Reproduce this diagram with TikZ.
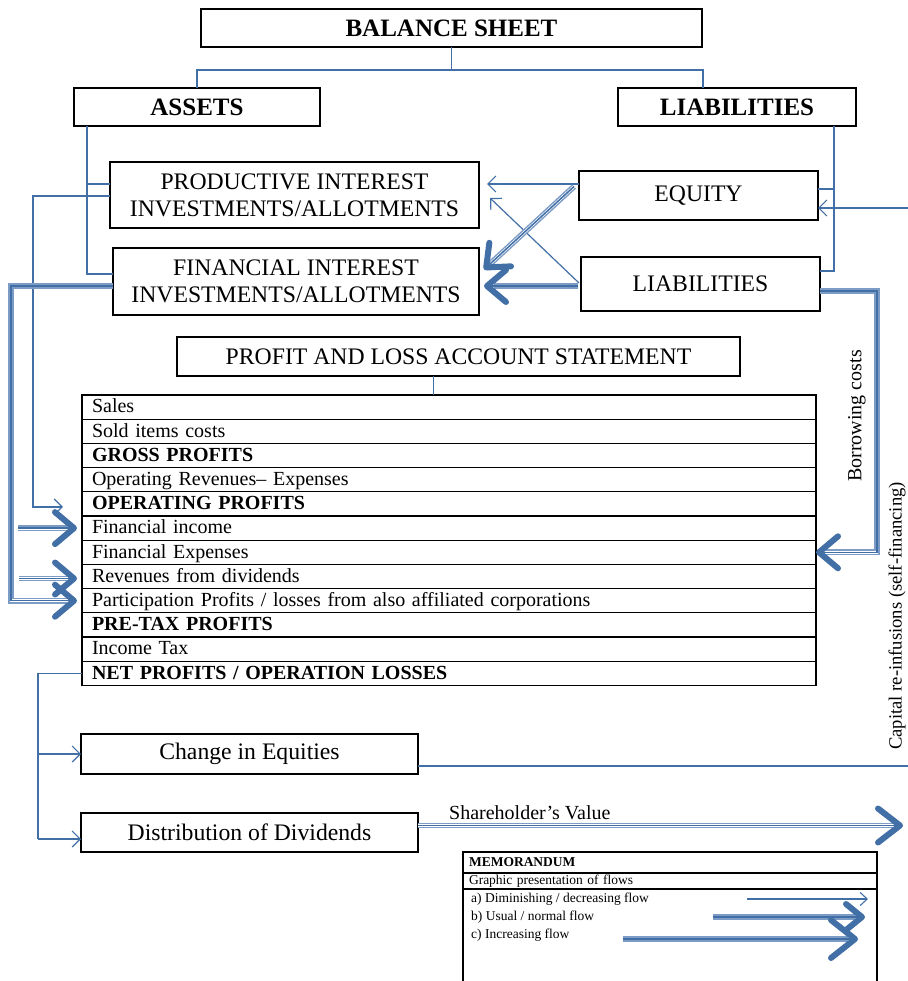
\documentclass[tikz,border=0pt]{standalone}
\usepackage{fontspec}
\setmainfont{Liberation Serif}
\usetikzlibrary{arrows.meta,calc}
\definecolor{fc}{HTML}{4270A6}
\definecolor{fcl}{HTML}{7C9CC6}
\begin{document}
\begin{tikzpicture}[x=1pt,y=-1pt,
  box/.style={draw, line width=1.1pt, inner sep=0pt, outer sep=0pt, align=center, anchor=north west},
  bigfont/.style={font=\fontsize{23.7}{27}\selectfont},
  row/.style={draw, line width=1.1pt, anchor=north west, outer sep=0pt, minimum width=734pt, minimum height=24.2pt,
     text width=714pt, align=left, inner xsep=10pt, inner ysep=0pt, text height=15.5pt, text depth=4pt,
     font=\fontsize{20}{22}\selectfont},
  brow/.style={row, font=\fontsize{20}{22}\selectfont\bfseries},
  link/.style={draw=fc, line width=1.2pt},
  thinarr/.style={draw=fc, line width=1.2pt, -{Straight Barb[length=8pt,width=16pt]}},
  flow/.style 2 args={draw=fcl, line width=5.8pt, shorten >=10pt,
     postaction={draw=white, line width=2.8pt, shorten >=10pt},
     postaction={draw=fc, line width=1.5pt, shorten >=0pt, -{Straight Barb[length=#1,width=#2,line width=0pt 4,round]}}},
  bigflow/.style={flow={19pt}{32pt}},
  memo/.style={anchor=west, inner sep=0pt, font=\fontsize{13.5}{15}\selectfont},
]
\useasboundingbox (0,0) rectangle (907,981);

% balance sheet
\node[box, minimum width=501pt, minimum height=38pt, font=\fontsize{25}{28}\selectfont\bfseries] (bs) at (201,9) {BALANCE SHEET};
\node[box, minimum width=246pt, minimum height=38pt, font=\fontsize{25}{28}\selectfont\bfseries] (assets) at (74,88) {ASSETS};
\node[box, minimum width=238pt, minimum height=38pt, font=\fontsize{25}{28}\selectfont\bfseries] (liab) at (618,88) {LIABILITIES};

\node[box, bigfont, minimum width=369pt, minimum height=66pt] (prod) at (110,162) {PRODUCTIVE INTEREST\\INVESTMENTS/ALLOTMENTS};
\node[box, bigfont, minimum width=366pt, minimum height=67pt] (fin) at (113,248) {FINANCIAL INTEREST\\INVESTMENTS/ALLOTMENTS};
\node[box, bigfont, minimum width=239pt, minimum height=49pt] (equity) at (579,171) {EQUITY};
\node[box, bigfont, minimum width=239pt, minimum height=54pt] (liab2) at (581,257) {LIABILITIES};

\node[box, bigfont, minimum width=563pt, minimum height=39pt] (pl) at (177,337) {PROFIT AND LOSS ACCOUNT STATEMENT};

% table
\node[row] (r1) at (82,395) {Sales};
\node[row] (r2) at (r1.south west) {Sold items costs};
\node[brow] (r3) at (r2.south west) {GROSS PROFITS};
\node[row] (r4) at (r3.south west) {Operating Revenues– Expenses};
\node[brow] (r5) at (r4.south west) {OPERATING PROFITS};
\node[row] (r6) at (r5.south west) {Financial income};
\node[row] (r7) at (r6.south west) {Financial Expenses};
\node[row] (r8) at (r7.south west) {Revenues from dividends};
\node[row] (r9) at (r8.south west) {Participation Profits / losses from also affiliated corporations};
\node[brow] (r10) at (r9.south west) {PRE-TAX PROFITS};
\node[row] (r11) at (r10.south west) {Income Tax};
\node[brow] (r12) at (r11.south west) {NET PROFITS / OPERATION LOSSES};

\node[box, bigfont, minimum width=337pt, minimum height=40pt] (change) at (81,734) {Change in Equities};
\node[box, bigfont, minimum width=337pt, minimum height=39pt] (dist) at (81,813) {Distribution of Dividends};

% memorandum
\node[draw, line width=1.1pt, anchor=north west, outer sep=0pt, minimum width=414pt, minimum height=21pt, text width=402pt, inner xsep=6pt, inner ysep=0pt, align=left, font=\fontsize{13.5}{15}\selectfont\bfseries] (m1) at (463,852) {MEMORANDUM};
\node[draw, line width=1.1pt, anchor=north west, outer sep=0pt, minimum width=414pt, minimum height=16pt, text width=402pt, inner xsep=6pt, inner ysep=0pt, align=left, font=\fontsize{13.5}{15}\selectfont] (m2) at (m1.south west) {Graphic presentation of flows};
\node[draw, line width=1.1pt, anchor=north west, outer sep=0pt, minimum width=414pt, minimum height=110pt] (m3) at (m2.south west) {};
\node[memo] (ma) at ($(m3.north west)+(8,10)$) {a) Diminishing / decreasing flow};
\node[memo] (mb) at ($(m3.north west)+(8,28)$) {b) Usual / normal flow};
\node[memo] (mc) at ($(m3.north west)+(8,46)$) {c) Increasing flow};

% labels
\node[anchor=south west, inner sep=0pt, font=\fontsize{20}{22}\selectfont] (sv) at ($(dist.east)+(31,-13)$) {Shareholder’s Value};
\node[rotate=90, inner sep=0pt, font=\fontsize{20}{22}\selectfont] (bc) at (857,416) {Borrowing costs};
\node[rotate=90, inner sep=0pt, font=\fontsize{18.6}{20}\selectfont] (cr) at (897,616) {Capital re-infusions (self-financing)};

% top tree
\coordinate (tl) at ($(liab.north west)+(85,0)$);
\draw[link] (bs.south) -- ($(bs.south)+(0,23)$);
\draw[link] (assets.north) -- ($(assets.north)+(0,-18)$) -- ($(tl)+(0,-18)$) -- (tl);

% assets side
\coordinate (al) at ($(assets.south west)+(13,0)$);
\draw[link] (al) |- ($(fin.west)+(0,-7.5)$);
\draw[link] ($(prod.west)+(0,-11)$) -- ($(prod.west)+(-23,-11)$);
\coordinate (opin) at ($(r5.west)+(-19,3)$);
\draw[thinarr] ($(prod.west)+(0,1)$) -| ($(opin)+(-30,0)$) -- (opin);
\draw[bigflow] ($(fin.west)+(0,4.5)$) -| ($(r9.west)+(-71,0)$) -- ($(r9.west)+(-5,0)$);
\draw[bigflow] ($(r6.west)+(-64,0)$) -- ($(r6.west)+(-5,0)$);
\draw[bigflow] ($(r8.west)+(-63,2)$) -- ($(r8.west)+(-5,2)$);

% liabilities side
\draw[link] ($(liab.south west)+(216,0)$) |- ($(liab2.east)+(0,-13)$);
\draw[link] ($(equity.east)+(0,-6.5)$) -- ($(equity.east)+(16,-6.5)$);
\draw[thinarr] ($(change.east)+(0,12)$) -| ($(equity.east)+(95,12.5)$) -- ($(equity.east)+(0,12.5)$);
\draw[bigflow] ($(liab2.east)+(0,7)$) -| ($(r7.east)+(61,0)$) -- (r7.east);

% cross flows
\draw[thinarr] ($(equity.west)+(0,-11.5)$) -- ($(prod.east)+(8,-11)$);
\draw[thinarr] ($(liab2.west)+(-2,-1)$) -- ($(prod.east)+(11,3)$);
\draw[bigflow] ($(equity.west)+(-5,-9)$) -- ($(fin.east)+(5,-12)$);
\draw[bigflow] ($(liab2.west)+(-3,2)$) -- ($(fin.east)+(5,4.5)$);

% P&L
\draw[link] ($(pl.south)+(-25,0)$) -- ($(pl.south)+(-25,19)$);

% net profit distribution
\coordinate (nl) at ($(r12.west)+(-44,0)$);
\draw[link] (r12.west) -- (nl) -- (nl |- dist.west) -- ++(0,6.5);
\draw[thinarr] (nl |- change.west) -- (change.west);
\draw[thinarr] ($(nl |- dist.west)+(0,6.5)$) -- ($(dist.west)+(0,6.5)$);
\draw[flow={22pt}{34pt}] ($(dist.east)+(0,-7)$) -- ($(dist.east)+(485,-7)$);

% memo arrows
\draw[draw=fc, line width=1.1pt, -{Straight Barb[length=7pt,width=13pt]}] ($(m3.north east)+(-130,10)$) -- ($(m3.north east)+(-9,10)$);
\draw[flow={16pt}{26pt}] ($(m3.north east)+(-164,28)$) -- ($(m3.north east)+(-12,28)$);
\draw[flow={24pt}{38pt}] ($(m3.north east)+(-254,50)$) -- ($(m3.north east)+(-19,50)$);
\end{tikzpicture}
\end{document}
